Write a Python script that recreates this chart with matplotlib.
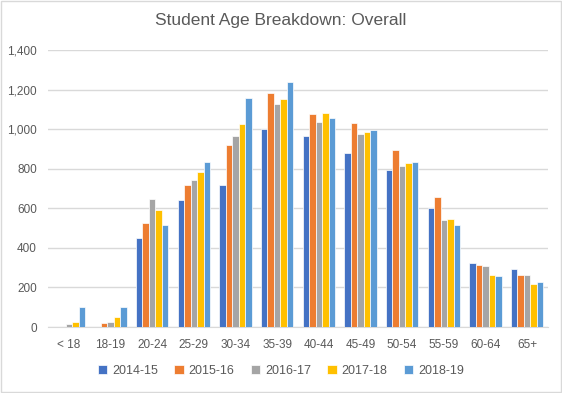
import matplotlib
matplotlib.use("Agg")
import matplotlib.pyplot as plt
import numpy as np
from matplotlib.ticker import FuncFormatter
from matplotlib.patches import Rectangle

categories = ["< 18", "18-19", "20-24", "25-29", "30-34", "35-39", "40-44",
              "45-49", "50-54", "55-59", "60-64", "65+"]
s2014_15 = [0, 0, 451, 644, 717, 1003, 964, 878, 794, 599, 325, 293]
s2015_16 = [0, 18, 526, 718, 918, 1184, 1075, 1033, 895, 658, 313, 264]
s2016_17 = [15, 27, 648, 742, 964, 1125, 1036, 977, 812, 542, 306, 264]
s2017_18 = [27, 52, 590, 784, 1026, 1152, 1082, 984, 829, 548, 264, 215]
s2018_19 = [103, 99, 516, 833, 1159, 1240, 1055, 994, 836, 516, 257, 225]
series_names = ["2014-15", "2015-16", "2016-17", "2017-18", "2018-19"]
colors = ["#4472C4", "#ED7D31", "#A5A5A5", "#FFC000", "#5B9BD5"]

plt.rcParams['font.family'] = ['Liberation Sans', 'DejaVu Sans']

fig = plt.figure(figsize=(5.62, 3.93), dpi=100)
ax = fig.add_axes([48/562, 1 - 327/393, (548-48)/562, (327-50)/393])

x = np.arange(len(categories))
bw = 0.155
data = [s2014_15, s2015_16, s2016_17, s2017_18, s2018_19]
for i, (vals, name, c) in enumerate(zip(data, series_names, colors)):
    ax.bar(x + (i - 2) * bw, vals, width=bw, color=c, edgecolor="white",
           linewidth=0.5, label=name, zorder=3)

ax.set_ylim(0, 1400)
ax.set_xlim(-0.5, len(categories) - 0.5)
ax.set_yticks(range(0, 1401, 200))
ax.yaxis.set_major_formatter(FuncFormatter(lambda v, p: f"{int(v):,}"))
ax.grid(axis="y", color="#D9D9D9", linewidth=1, zorder=0)
ax.set_xticks(x)
ax.set_xticklabels(categories)
for s in ["top", "right", "left"]:
    ax.spines[s].set_visible(False)
ax.spines["bottom"].set_color("#D9D9D9")
ax.tick_params(axis="y", length=0, labelsize=8.5, colors="#595959", pad=8)
ax.tick_params(axis="x", length=0, labelsize=8.5, colors="#595959", pad=9)

fig.text(0.5, 1 - 21/393, "Student Age Breakdown: Overall", ha="center", va="center",
         fontsize=12.5, color="#595959")

fig.legend(loc="center", bbox_to_anchor=(0.5, 1 - 371/393), ncol=5, frameon=False,
           fontsize=9, handlelength=0.75, handleheight=0.75, columnspacing=1.3,
           handletextpad=0.4, labelcolor="#595959")

fig.patches.append(Rectangle((0.002, 0.002), 0.996, 0.996, transform=fig.transFigure,
                             fill=False, edgecolor="#D9D9D9", linewidth=1))

fig.savefig("out.png", dpi=100)
